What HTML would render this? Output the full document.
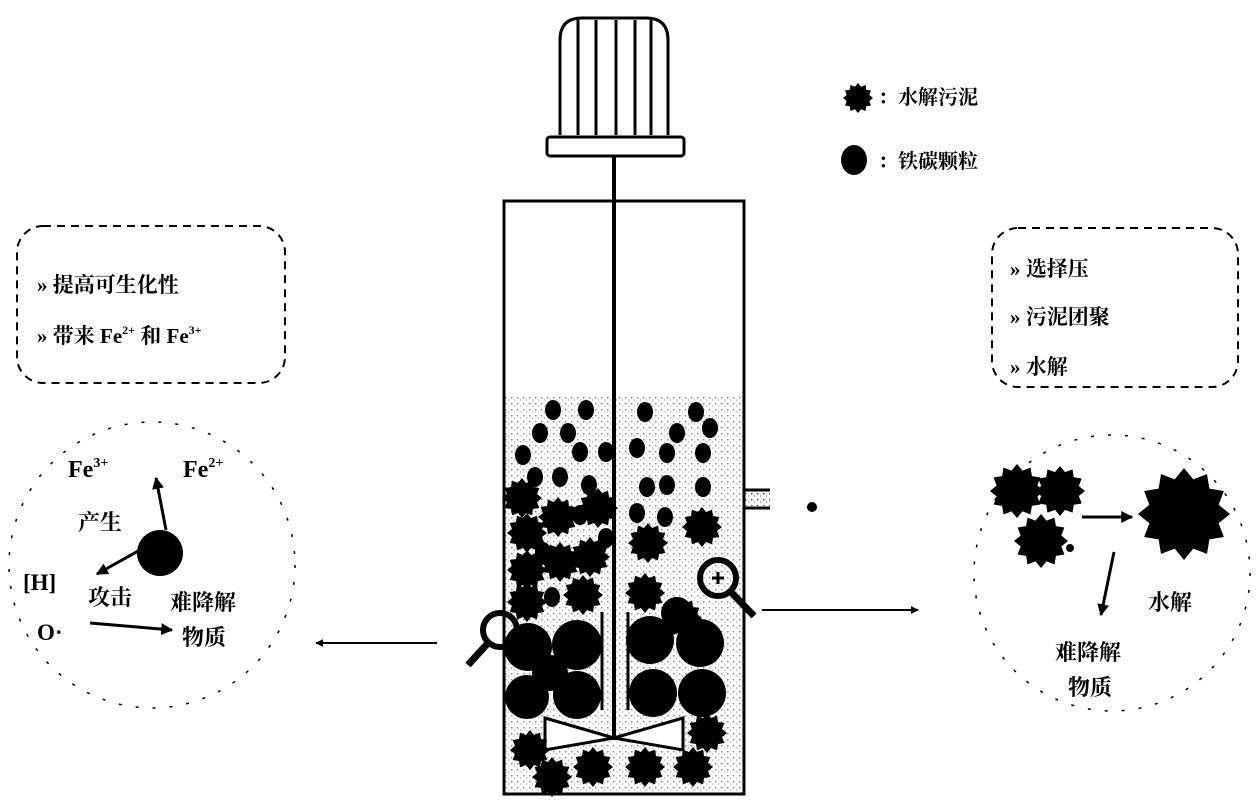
<!DOCTYPE html>
<html><head><meta charset="utf-8"><style>
html,body{margin:0;padding:0;background:#fff;}
svg{display:block;}
text{font-family:"Liberation Serif","Noto Serif CJK SC",serif;font-weight:bold;fill:#000;}
</style></head><body>
<svg width="1260" height="803" viewBox="0 0 1260 803" xmlns="http://www.w3.org/2000/svg">
<defs>
<symbol id="st" viewBox="-1 -1 2 2"><polygon points="1,0 0.753,0.202 0.866,0.5 0.552,0.552 0.5,0.866 0.202,0.753 0,1 -0.202,0.753 -0.5,0.866 -0.552,0.552 -0.866,0.5 -0.753,0.202 -1,0 -0.753,-0.202 -0.866,-0.5 -0.552,-0.552 -0.5,-0.866 -0.202,-0.753 0,-1 0.202,-0.753 0.5,-0.866 0.552,-0.552 0.866,-0.5 0.753,-0.202" fill="#000"/></symbol>
<pattern id="sp" width="6" height="6" patternUnits="userSpaceOnUse"><rect x="1" y="1" width="1.5" height="1.5" fill="#000"/><rect x="4" y="3.5" width="1" height="1" fill="#000"/></pattern>
<marker id="ar" viewBox="0 0 10 10" refX="9" refY="5" markerWidth="4" markerHeight="4" orient="auto"><path d="M0,0L10,5L0,10z" fill="#000"/></marker>
</defs>

<!-- motor -->
<path d="M560,135 V40 Q560,18 582,18 H646 Q668,18 668,40 V135" fill="#fff" stroke="#000" stroke-width="3"/>
<g stroke="#000" stroke-width="3"><line x1="578" y1="20" x2="578" y2="135"/><line x1="596" y1="20" x2="596" y2="135"/><line x1="616" y1="20" x2="616" y2="135"/><line x1="635" y1="20" x2="635" y2="135"/><line x1="651" y1="20" x2="651" y2="135"/></g>
<rect x="547" y="137" width="137" height="19" rx="3" fill="#fff" stroke="#000" stroke-width="3"/>

<!-- vessel -->
<rect x="505" y="395" width="238" height="398" fill="url(#sp)" opacity="0.45"/>
<rect x="504" y="201" width="240" height="593" fill="none" stroke="#000" stroke-width="3"/>
<line x1="614" y1="156" x2="614" y2="740" stroke="#000" stroke-width="4"/>
<path d="M744,490 H770 M744,508 H770" stroke="#000" stroke-width="3"/>
<rect x="744" y="492" width="26" height="14" fill="url(#sp)" opacity="0.7"/>
<circle cx="812" cy="507" r="5" fill="#000"/>
<g stroke="#000" stroke-width="3"><line x1="602" y1="612" x2="602" y2="710"/><line x1="628" y1="612" x2="628" y2="710"/></g>
<path d="M545,718 L614,738 L545,750 Z M683,718 L614,738 L683,750 Z" fill="#fff" stroke="#000" stroke-width="3"/>

<g fill="#000">
<ellipse cx="553" cy="410" rx="8" ry="10"/><ellipse cx="586" cy="410" rx="8" ry="10"/><ellipse cx="540" cy="433" rx="8" ry="10"/><ellipse cx="568" cy="433" rx="8" ry="10"/><ellipse cx="580" cy="452" rx="8" ry="10"/><ellipse cx="606" cy="452" rx="8" ry="10"/><ellipse cx="523" cy="455" rx="8" ry="10"/><ellipse cx="535" cy="477" rx="8" ry="10"/><ellipse cx="560" cy="477" rx="8" ry="10"/><ellipse cx="589" cy="485" rx="8" ry="10"/><ellipse cx="580" cy="515" rx="8" ry="10"/><ellipse cx="606" cy="538" rx="8" ry="10"/><ellipse cx="552" cy="597" rx="8" ry="10"/><ellipse cx="543" cy="552" rx="8" ry="10"/>
<ellipse cx="645" cy="412" rx="8" ry="10"/><ellipse cx="696" cy="412" rx="8" ry="10"/><ellipse cx="677" cy="433" rx="8" ry="10"/><ellipse cx="710" cy="428" rx="8" ry="10"/><ellipse cx="637" cy="448" rx="8" ry="10"/><ellipse cx="667" cy="453" rx="8" ry="10"/><ellipse cx="703" cy="453" rx="8" ry="10"/><ellipse cx="647" cy="487" rx="8" ry="10"/><ellipse cx="667" cy="485" rx="8" ry="10"/><ellipse cx="703" cy="487" rx="8" ry="10"/><ellipse cx="637" cy="513" rx="8" ry="10"/><ellipse cx="665" cy="517" rx="8" ry="10"/>
<circle cx="577" cy="645" r="25"/><circle cx="528" cy="647" r="24"/><circle cx="550" cy="673" r="18"/><circle cx="527" cy="697" r="22"/><circle cx="577" cy="695" r="24"/>
<circle cx="650" cy="640" r="24"/><circle cx="700" cy="643" r="24"/><circle cx="653" cy="693" r="24"/><circle cx="702" cy="693" r="24"/><circle cx="677" cy="613" r="16"/>
</g>
<g>
<use href="#st" x="502" y="478" width="40" height="40"/><use href="#st" x="538" y="497" width="40" height="40"/><use href="#st" x="578" y="488" width="40" height="40"/><use href="#st" x="507" y="513" width="40" height="40"/><use href="#st" x="540" y="542" width="40" height="40"/><use href="#st" x="570" y="537" width="40" height="40"/><use href="#st" x="507" y="550" width="40" height="40"/><use href="#st" x="563" y="575" width="40" height="40"/><use href="#st" x="507" y="582" width="40" height="40"/>
<use href="#st" x="628" y="523" width="40" height="40"/><use href="#st" x="682" y="507" width="40" height="40"/><use href="#st" x="625" y="573" width="40" height="40"/><use href="#st" x="662" y="598" width="40" height="40"/>
<use href="#st" x="510" y="730" width="40" height="40"/><use href="#st" x="532" y="757" width="40" height="40"/><use href="#st" x="573" y="747" width="40" height="40"/><use href="#st" x="625" y="747" width="40" height="40"/><use href="#st" x="673" y="747" width="40" height="40"/><use href="#st" x="687" y="713" width="40" height="40"/>
</g>
<!-- magnifiers -->
<circle cx="500" cy="630" r="17" fill="none" stroke="#000" stroke-width="6"/>
<line x1="488" y1="643" x2="468" y2="665" stroke="#000" stroke-width="7"/>
<circle cx="718" cy="578" r="18" fill="none" stroke="#000" stroke-width="6"/>
<line x1="731" y1="592" x2="754" y2="616" stroke="#000" stroke-width="7"/>
<path d="M712,578 H724 M718,572 V584" stroke="#000" stroke-width="3"/>

<!-- arrows -->
<line x1="437" y1="643" x2="316" y2="643" stroke="#000" stroke-width="2" marker-end="url(#ar)"/>
<line x1="762" y1="610" x2="918" y2="610" stroke="#000" stroke-width="2" marker-end="url(#ar)"/>

<!-- legend -->
<use href="#st" x="843" y="83" width="30" height="30"/>
<text x="878" y="104" font-size="20" font-weight="normal">：水解污泥</text>
<ellipse cx="854" cy="160" rx="13" ry="15" fill="#000"/>
<text x="878" y="168" font-size="20" font-weight="normal">：铁碳颗粒</text>

<!-- left box -->
<rect x="17" y="226" width="268" height="157" rx="26" fill="none" stroke="#000" stroke-width="2" stroke-dasharray="8,6"/>
<text x="37" y="292" font-size="21">» 提高可生化性</text>
<text x="37" y="343" font-size="21">» 带来 Fe<tspan font-size="12" dy="-9">2+</tspan><tspan dy="9"> 和 Fe</tspan><tspan font-size="12" dy="-9">3+</tspan></text>

<!-- right box -->
<rect x="992" y="228" width="246" height="159" rx="26" fill="none" stroke="#000" stroke-width="2" stroke-dasharray="8,6"/>
<text x="1010" y="276" font-size="21">»  选择压</text>
<text x="1010" y="324" font-size="21">»  污泥团聚</text>
<text x="1010" y="374" font-size="21">»  水解</text>

<!-- left circle -->
<circle cx="152" cy="565" r="143" fill="none" stroke="#000" stroke-width="1.5" stroke-dasharray="3,14"/>
<text x="68" y="477" font-size="24">Fe<tspan font-size="14" dy="-10">3+</tspan></text>
<text x="183" y="477" font-size="24">Fe<tspan font-size="14" dy="-10">2+</tspan></text>
<circle cx="160" cy="553" r="23" fill="#000"/>
<line x1="166" y1="530" x2="156" y2="478" stroke="#000" stroke-width="3" marker-end="url(#ar)"/>
<line x1="140" y1="550" x2="97" y2="574" stroke="#000" stroke-width="3" marker-end="url(#ar)"/>
<text x="78" y="530" font-size="22">产生</text>
<text x="23" y="590" font-size="23">[H]</text>
<text x="88" y="605" font-size="22">攻击</text>
<text x="37" y="640" font-size="23">O·</text>
<line x1="90" y1="623" x2="172" y2="630" stroke="#000" stroke-width="3" marker-end="url(#ar)"/>
<text x="170" y="610" font-size="22">难降解</text>
<text x="182" y="645" font-size="22">物质</text>

<!-- right circle -->
<circle cx="1112" cy="573" r="138" fill="none" stroke="#000" stroke-width="1.5" stroke-dasharray="3,14"/>
<use href="#st" x="990" y="464" width="54" height="54"/>
<use href="#st" x="1035" y="466" width="50" height="50"/>
<use href="#st" x="1014" y="514" width="54" height="54"/>
<circle cx="1070" cy="548" r="4" fill="#000"/>
<line x1="1082" y1="517" x2="1132" y2="517" stroke="#000" stroke-width="3" marker-end="url(#ar)"/>
<use href="#st" x="1138" y="468" width="92" height="92"/>
<line x1="1114" y1="552" x2="1101" y2="615" stroke="#000" stroke-width="3" marker-end="url(#ar)"/>
<text x="1148" y="610" font-size="22">水解</text>
<text x="1055" y="660" font-size="22">难降解</text>
<text x="1068" y="695" font-size="22">物质</text>
</svg>
</body></html>
